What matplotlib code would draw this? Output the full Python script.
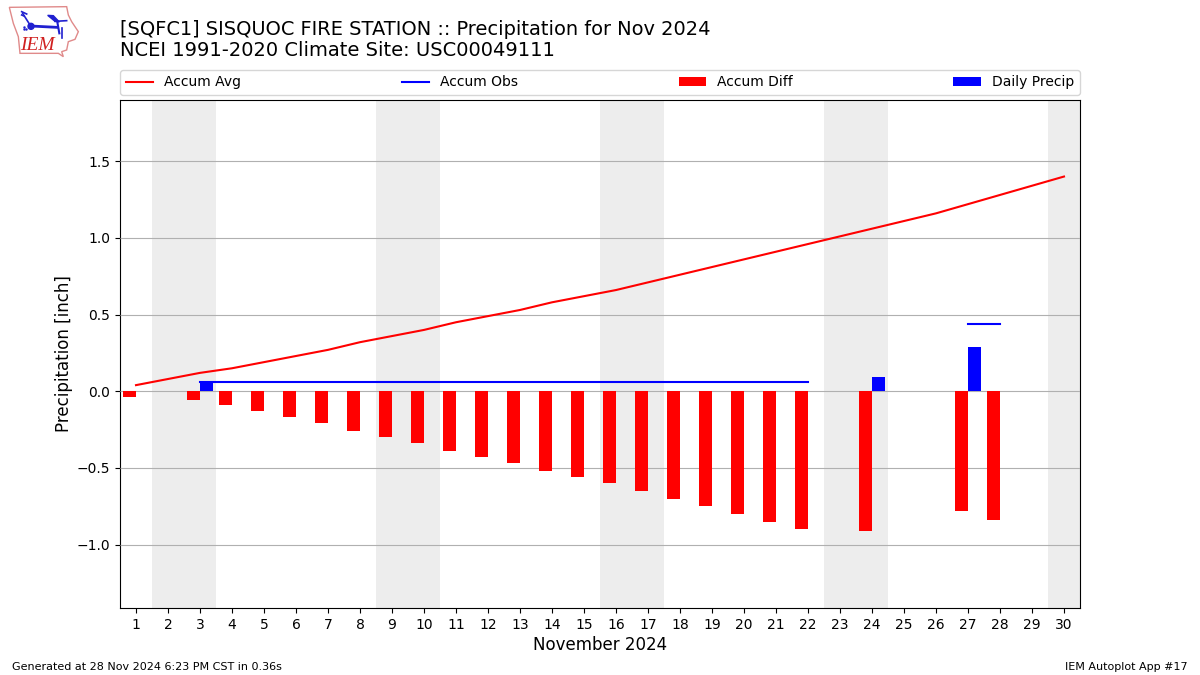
import matplotlib
matplotlib.use("Agg")
import matplotlib.pyplot as plt
from matplotlib.patches import Polygon, Circle

nan = float("nan")

days = list(range(1, 31))
accum_avg = [0.04, 0.08, 0.12, 0.15, 0.19, 0.23, 0.27, 0.32, 0.36, 0.40,
	0.45, 0.49, 0.53, 0.58, 0.62, 0.66, 0.71, 0.76, 0.81, 0.86,
	0.91, 0.96, 1.01, 1.06, 1.11, 1.16, 1.22, 1.28, 1.34, 1.40]
accum_obs = [nan, nan, 0.06, 0.06, 0.06, 0.06, 0.06, 0.06, 0.06, 0.06,
	0.06, 0.06, 0.06, 0.06, 0.06, 0.06, 0.06, 0.06, 0.06, 0.06,
	0.06, 0.06, nan, 0.15, nan, nan, 0.44, 0.44, nan, nan]
accum_diff = [-0.04, 0, -0.06, -0.09, -0.13, -0.17, -0.21, -0.26, -0.30, -0.34,
	-0.39, -0.43, -0.47, -0.52, -0.56, -0.60, -0.65, -0.70, -0.75, -0.80,
	-0.85, -0.90, 0, -0.91, 0, 0, -0.78, -0.84, 0, 0]
daily_precip = [0, 0, 0.06, 0, 0, 0, 0, 0, 0, 0,
	0, 0, 0, 0, 0, 0, 0, 0, 0, 0,
	0, 0, 0, 0.09, 0, 0, 0.29, 0, 0, 0]
weekends = [(1.5, 3.5), (8.5, 10.5), (15.5, 17.5), (22.5, 24.5), (29.5, 30.5)]

title_line1 = "[SQFC1] SISQUOC FIRE STATION :: Precipitation for Nov 2024"
title_line2 = "NCEI 1991-2020 Climate Site: USC00049111"


def draw_logo(fgr):
	lg = fgr.add_axes([0, 1 - 60 / 675, 80 / 1200, 60 / 675])
	lg.set_xlim(0, 240)
	lg.set_ylim(180, 0)
	lg.axis("off")
	outline = [(28, 22), (200, 20), (205, 45), (215, 65), (235, 95), (225, 118), (205, 125),
		(200, 150), (185, 155), (190, 170), (175, 160), (60, 160), (55, 110), (40, 70), (35, 50)]
	lg.add_patch(Polygon(outline, closed = True, fill = False, edgecolor = "#e08a8a", linewidth = 1))
	lg.plot([92, 170], [78, 82], color = "#2020d0", linewidth = 2)
	lg.plot([68, 92], [40, 78], color = "#2020d0", linewidth = 1.2)
	lg.plot([65, 80], [35, 42], color = "#2020d0", linewidth = 1.2)
	lg.plot([65, 72], [45, 48], color = "#2020d0", linewidth = 1.2)
	lg.plot([165, 200], [64, 62], color = "#2020d0", linewidth = 1.2)
	lg.plot([172, 178], [66, 100], color = "#2020d0", linewidth = 1.5)
	lg.plot([187, 187], [85, 114], color = "#2020d0", linewidth = 1.2)
	lg.plot([72, 78, 72], [88, 88, 82], ".", color = "#2020d0", markersize = 1.5)
	lg.add_patch(Circle((93, 79), 9, color = "#2020d0"))
	lg.add_patch(Polygon([(143, 46), (160, 47), (178, 66), (165, 64)], closed = True, color = "#2020d0"))
	lg.text(112, 135, "IEM", color = "#d02020", fontsize = 14, family = "Liberation Serif",
		style = "italic", ha = "center", va = "center")


fgr = plt.figure(figsize = (12, 6.75), dpi = 100)
ax = fgr.add_axes([120 / 1200, 1 - 608 / 675, 960 / 1200, 508 / 675])

for start, end in weekends:
	ax.axvspan(start, end, color = "#ededed", linewidth = 0, zorder = 1)

ax.plot(days, accum_avg, color = "r", label = "Accum Avg", zorder = 4)
ax.plot(days, accum_obs, color = "b", label = "Accum Obs", zorder = 4)
ax.bar(days, accum_diff, width = -0.4, align = "edge", color = "r", label = "Accum Diff", zorder = 3)
ax.bar(days, daily_precip, width = 0.4, align = "edge", color = "b", label = "Daily Precip", zorder = 3)

ax.set_xlim(0.5, 30.5)
ax.set_ylim(-1.413, 1.899)
ax.set_xticks(days)
ax.set_yticks([-1.0, -0.5, 0.0, 0.5, 1.0, 1.5])
ax.grid(axis = "y", color = "#b0b0b0", linewidth = 0.8)
ax.set_axisbelow(False)
for line in ax.get_ygridlines():
	line.set_zorder(2)
ax.set_xlabel("November 2024", fontsize = 12, labelpad = 2.8)
ax.set_ylabel("Precipitation [inch]", fontsize = 12, labelpad = 2.5)

ax.legend(loc = "lower left", bbox_to_anchor = (0, 0.01 + 1, 1, 0.05), ncol = 4, mode = "expand",
	borderaxespad = 0, fontsize = 10)

fgr.text(120 / 1200, 1 - 35 / 675, title_line1, fontsize = 13.98, ha = "left", va = "baseline")
fgr.text(120 / 1200, 1 - 56 / 675, title_line2, fontsize = 14, ha = "left", va = "baseline")
fgr.text(12 / 1200, 1 - 670 / 675, "Generated at 28 Nov 2024 6:23 PM CST in 0.36s", fontsize = 8)
fgr.text(1188 / 1200, 1 - 670 / 675, "IEM Autoplot App #17", fontsize = 8, ha = "right")

draw_logo(fgr)

fgr.savefig("out.png", dpi = 100)
